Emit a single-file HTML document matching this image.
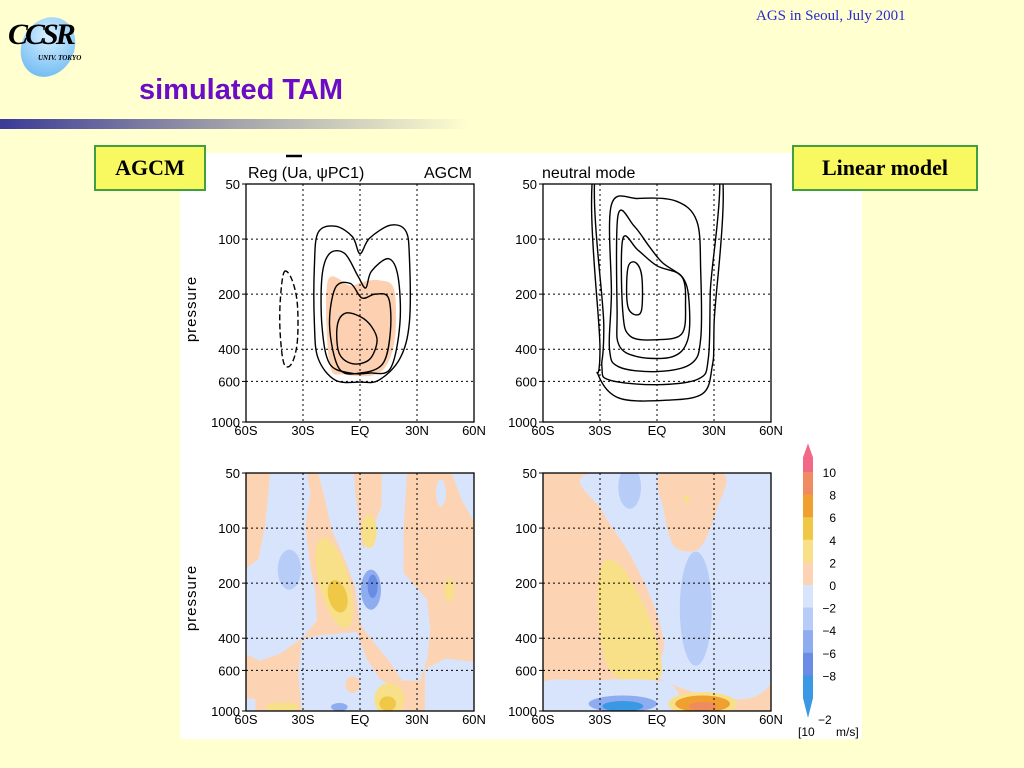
<!DOCTYPE html>
<html><head><meta charset="utf-8"><style>
body{margin:0;width:1024px;height:768px;background:#ffffd0;overflow:hidden;position:relative;font-family:"Liberation Sans",sans-serif}
.abs{position:absolute}
</style></head><body>
<div class="abs" style="left:756px;top:8px;font:15px 'Liberation Serif',serif;color:#2a2ad0">AGS in Seoul, July 2001</div>
<div class="abs" style="left:8px;top:10px;width:80px;height:60px">
 <div style="position:absolute;left:14px;top:6px;width:52px;height:62px;border-radius:50%;background:radial-gradient(circle at 40% 35%,#d8f0ff,#5ab0f0);transform:rotate(30deg)"></div>
 <div style="position:absolute;left:0;top:8px;font:italic bold 30px 'Liberation Serif',serif;color:#000;letter-spacing:-3px">CCSR</div>
 <div style="position:absolute;left:30px;top:44px;font:italic bold 7px 'Liberation Serif',serif">UNIV. TOKYO</div>
</div>
<div class="abs" style="left:139px;top:74px;font:bold 29px 'Liberation Sans',sans-serif;color:#6a0cc8">simulated TAM</div>
<div class="abs" style="left:0;top:119px;width:470px;height:10px;background:linear-gradient(90deg,#3a3a98,#9a9aa8 45%,rgba(255,255,208,0))"></div>
<div class="abs" style="left:180px;top:153px;width:682px;height:586px;background:#fff"></div>
<svg class="abs" style="left:0;top:0" width="1024" height="768" id="fig"></svg>
<div class="abs" style="left:94px;top:145px;width:108px;height:42px;background:#f8f860;border:2px solid #40a040;font:bold 22px 'Liberation Serif',serif;text-align:center;line-height:42px">AGCM</div>
<div class="abs" style="left:792px;top:145px;width:182px;height:42px;background:#f8f860;border:2px solid #40a040;font:bold 22px 'Liberation Serif',serif;text-align:center;line-height:42px">Linear model</div>
<script>
const yTicks=[50,100,200,400,600,1000];
const xTicks=["60S","30S","EQ","30N","60N"];
const xTickLat=[-60,-30,0,30,60];
const cbLevels=[10,8,6,4,2,0,-2,-4,-6,-8];
const cbColors=["#f06a88","#f08a60","#f0a030","#f0c848","#f8e088","#fcd4b4","#d8e4fc","#b8ccf8","#8eacf0","#6a8ce4","#3a98e4"];
const panels=[{x:246,y:184,n:"agcm-contour"},{x:543,y:184,n:"linear-contour"},{x:246,y:473,n:"agcm-shaded"},{x:543,y:473,n:"linear-shaded"}];
const W=228,H=238;
// contours (AGCM) as [lat,pressure] pairs
const agcmC1=[[-24,140],[-22,92],[-13,85],[-4,97],[0,120],[5,99],[16,84],[24,90],[26,125],[26,285],[21,450],[10,590],[0,605],[-13,590],[-22,450],[-24,290]];
const agcmC2=[[-20,160],[-16,120],[-8,120],[-1,160],[3,185],[6,150],[15,128],[20,160],[21,290],[16,510],[5,540],[-5,540],[-16,480],[-20,300]];
const agcmC3=[[-16,300],[-13,185],[-5,175],[1,210],[8,200],[15,210],[16,320],[12,480],[0,540],[-11,510]];
const agcmC4=[[-12,300],[-8,255],[0,265],[6,300],[9,360],[5,455],[-4,480],[-11,420]];
const agcmNeg=[[-40,152],[-36,165],[-33,225],[-33,365],[-36,480],[-40,480],[-42,330],[-42,220]];
const agcmShade=[[-17,170],[-5,180],[1,172],[10,168],[18,190],[18,370],[10,540],[-8,550],[-16,480]];
const linC=[
 [[-30,30],[30.5,30],[30,300],[29,500],[24,700],[5,760],[-20,740],[-31,550],[-30,400]],
 [[-29,30],[29,30],[28,200],[27,450],[22,580],[0,625],[-25,590],[-29,500],[-28,300]],
 [[-24,65],[-10,60],[10,62],[21,80],[23,150],[23,350],[18,480],[0,530],[-20,500],[-25,400],[-24,200]],
 [[-20.5,74],[-12,85],[-4,110],[3,135],[14,165],[17,230],[16,360],[8,440],[-10,440],[-20,380],[-21,250]],
 [[-18,100],[-10,115],[0,140],[13,160],[15,230],[13,330],[0,355],[-14,340],[-18,250]],
 [[-15,140],[-11,135],[-8,160],[-8,240],[-11,260],[-15,240],[-16,190]]];
// AGCM shaded regions: polygons in panel units (684 x 714 grid)
const aShade=[
 {c:6,p:[[75,0],[180,0],[190,60],[175,160],[190,280],[205,360],[210,440],[170,490],[100,540],[40,560],[0,540],[0,290],[40,260],[60,160],[70,60]]},
 {c:6,p:[[220,0],[320,0],[325,60],[340,180],[350,240],[385,160],[410,100],[410,0],[480,0],[470,160],[470,300],[540,380],[550,470],[540,560],[520,620],[470,620],[430,560],[380,500],[345,450],[330,340],[300,260],[260,170],[240,80]]},
 {c:6,p:[[170,500],[220,490],[330,480],[360,560],[400,620],[430,640],[440,714],[170,714],[160,600]]},
 {c:6,p:[[540,590],[600,560],[684,570],[684,714],[540,714]]},
 {c:6,p:[[620,0],[684,0],[684,140],[650,80]]},
 {c:6,p:[[0,680],[25,680],[25,714],[0,714]]},
 {c:6,e:[585,60,15,40]},
 {c:5,e:[320,635,22,25]},
 {c:7,e:[130,290,35,60]},
 {c:4,e:[265,330,45,140,-15]},
 {c:3,e:[275,370,28,50,-15]},
 {c:4,e:[370,175,22,50]},
 {c:4,e:[610,350,15,35]},
 {c:8,e:[375,350,30,60]},
 {c:9,e:[380,340,15,35]},
 {c:4,e:[430,680,45,50]},
 {c:3,e:[425,692,25,22]},
 {c:4,e:[110,702,50,14]},
 {c:8,e:[280,702,25,12]}];
const lShade=[
 {c:6,p:[[.21,0],[1,0],[1,.88],[.54,.88],[.53,.71],[.48,.54],[.38,.34],[.26,.16]]},
 {c:5,p:[[.52,0],[.79,0],[.76,.16],[.70,.30],[.64,.33],[.57,.30],[.53,.16]]},
 {c:4,e:[.63,.11,.012,.015]},
 {c:7,e:[.38,.06,.05,.09]},
 {c:7,e:[.67,.57,.07,.24]},
 {c:4,p:[[.27,.37],[.35,.40],[.44,.55],[.50,.71],[.51,.86],[.33,.86],[.26,.74],[.24,.50]]},
 {c:6,p:[[0,.88],[.18,.87],[.54,.88],[.55,1],[0,1]]},
 {c:8,e:[.35,.97,.15,.035]},
 {c:10,e:[.35,.98,.09,.022]},
 {c:4,e:[.70,.97,.15,.05]},
 {c:2,e:[.70,.97,.12,.035]},
 {c:1,e:[.70,.98,.06,.018]}];
const svg=document.getElementById('fig'),NS="http://www.w3.org/2000/svg";
function mk(t,a,par){const e=document.createElementNS(NS,t);for(const k in a)e.setAttribute(k,a[k]);(par||svg).appendChild(e);return e;}
const xs=(p,lat)=>p.x+(lat+60)/120*W;
const ys=(p,pr)=>p.y+Math.log10(pr/50)/Math.log10(20)*H;
function smooth(pts,closed){let d="M"+pts[0][0]+","+pts[0][1];const n=pts.length;
 for(let i=0;i<(closed?n:n-1);i++){const p0=pts[(i-1+n)%n],p1=pts[i],p2=pts[(i+1)%n],p3=pts[(i+2)%n];
  const a=closed||i>0?p0:p1,b=closed||i<n-2?p3:p2;
  d+=`C${p1[0]+(p2[0]-a[0])/6},${p1[1]+(p2[1]-a[1])/6} ${p2[0]-(b[0]-p1[0])/6},${p2[1]-(b[1]-p1[1])/6} ${p2[0]},${p2[1]}`;}
 return d+(closed?"Z":"");}
panels.forEach((p,i)=>{
 const g=mk('g',{});
 const cid='clip'+i;const cp=mk('clipPath',{id:cid},g);mk('rect',{x:p.x,y:p.y,width:W,height:H},cp);
 const plot=mk('g',{'clip-path':`url(#${cid})`},g);
 if(i>=2){
  mk('rect',{x:p.x,y:p.y,width:W,height:H,fill:cbColors[5]},plot);
  const sx=i==2?W/684:W, sy=i==2?H/714:H;
  (i==2?aShade:lShade).forEach(s=>{let e;
   if(s.e){e=mk('ellipse',{cx:p.x+s.e[0]*sx,cy:p.y+s.e[1]*sy,rx:s.e[2]*sx,ry:s.e[3]*sy,fill:cbColors[s.c]},plot);
     if(s.e[4])e.setAttribute('transform',`rotate(${s.e[4]} ${p.x+s.e[0]*sx} ${p.y+s.e[1]*sy})`);}
   else if(i==2) e=mk('polygon',{points:s.p.map(q=>(p.x+q[0]*sx)+','+(p.y+q[1]*sy)).join(' '),fill:cbColors[s.c],stroke:cbColors[s.c],'stroke-linejoin':'round','stroke-width':2},plot);
   else e=mk('path',{d:smooth(s.p.map(q=>[p.x+q[0]*sx,p.y+q[1]*sy]),true),fill:cbColors[s.c]},plot);
   });
 }
 const conv=arr=>arr.map(q=>[xs(p,q[0]),ys(p,q[1])]);
 if(i==0){
  let e=mk('path',{d:smooth(conv(agcmShade),true),fill:"#fcd0b0"},plot);
  [agcmC1,agcmC2,agcmC3,agcmC4].forEach(c=>{const e=mk('path',{d:smooth(conv(c),true),fill:'none',stroke:'#000','stroke-width':1.4},plot);});
  e=mk('path',{d:smooth(conv(agcmNeg),true),fill:'none',stroke:'#000','stroke-width':1.4,'stroke-dasharray':'6,3'},plot);
 }
 if(i==1){linC.forEach(c=>{const e=mk('path',{d:smooth(conv(c),true),fill:'none',stroke:'#000','stroke-width':1.4},plot);});}
 xTickLat.slice(1,4).forEach(l=>mk('line',{x1:xs(p,l),x2:xs(p,l),y1:p.y,y2:p.y+H,stroke:'#000','stroke-dasharray':'2,3','stroke-width':1},g));
 yTicks.slice(1,5).forEach(v=>mk('line',{x1:p.x,x2:p.x+W,y1:ys(p,v),y2:ys(p,v),stroke:'#000','stroke-dasharray':'2,3','stroke-width':1},g));
 const fr=mk('rect',{x:p.x,y:p.y,width:W,height:H,fill:'none',stroke:'#000','stroke-width':1.3},g);
 yTicks.forEach(v=>{const t=mk('text',{x:p.x-6,y:ys(p,v)+5,'text-anchor':'end','font-size':13,'font-family':'Liberation Sans'},g);t.textContent=v;
  mk('line',{x1:p.x-4,x2:p.x,y1:ys(p,v),y2:ys(p,v),stroke:'#000'},g);});
 xTicks.forEach((v,k)=>{const t=mk('text',{x:xs(p,xTickLat[k]),y:p.y+H+13,'text-anchor':'middle','font-size':13,'font-family':'Liberation Sans'},g);t.textContent=v;});
 if(i%2==0){const t=mk('text',{x:0,y:0,transform:`translate(${p.x-50},${p.y+125}) rotate(-90)`,'text-anchor':'middle','font-size':15,'font-family':'Liberation Sans','letter-spacing':1},g);t.textContent='pressure';}
});
function txt(x,y,s,n,sz){const t=mk('text',{x:x,y:y,'font-size':sz||16,'font-family':'Liberation Sans'});t.textContent=s;return t;}
txt(248,178,"Reg (Ua, \u03c8PC1)","agcm-panel-title");txt(424,178,"AGCM","agcm-panel-tag");
mk('line',{x1:286,x2:302,y1:156,y2:156,stroke:'#000','stroke-width':2.5});
txt(542,178,"neutral mode","linear-panel-title");
// colorbar
const cbx=803,cbTop=472,cbStep=22.6,cbw=10;
const cb=mk('g',{});
cbColors.forEach((c,k)=>{const y0=cbTop+(k-1)*cbStep;
 if(k==0)mk('path',{d:`M${cbx+cbw/2},${cbTop-cbStep-6} L${cbx+cbw},${cbTop-cbStep+8} V${cbTop} H${cbx} V${cbTop-cbStep+8}Z`,fill:c},cb);
 else if(k==cbColors.length-1)mk('path',{d:`M${cbx},${y0} H${cbx+cbw} V${y0+cbStep} L${cbx+cbw/2},${y0+cbStep+20} L${cbx},${y0+cbStep}Z`,fill:c},cb);
 else mk('rect',{x:cbx,y:y0,width:cbw,height:cbStep+0.5,fill:c},cb);});
cbLevels.forEach((v,k)=>{const t=mk('text',{x:836,y:cbTop+k*cbStep+5,'text-anchor':'end','font-size':12,'font-family':'Liberation Sans'},cb);t.textContent=v<0?'\u2212'+(-v):v;});
txt(798,736,"[10","colorbar-unit",12);txt(818,724,"\u22122","colorbar-unit-exp",12);txt(836,736,"m/s]","colorbar-unit-tail",12);
</script>
</body></html>
